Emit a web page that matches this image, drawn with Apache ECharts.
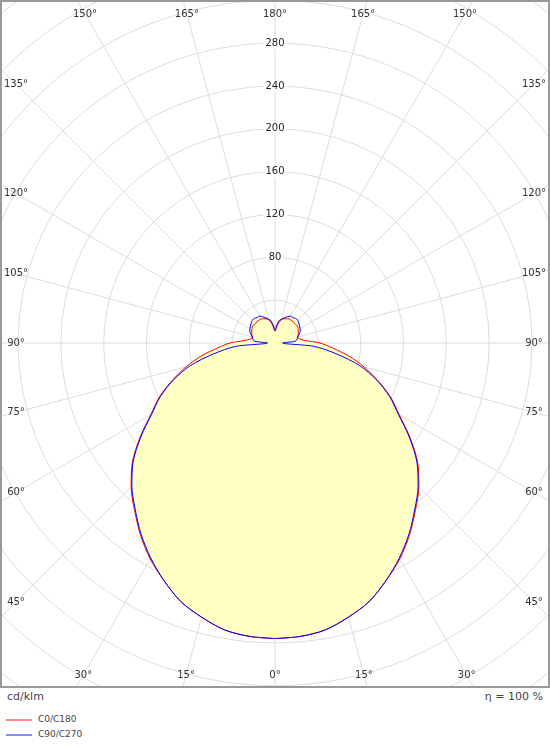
<!DOCTYPE html>
<html>
<head>
<meta charset="utf-8">
<script src="https://cdn.jsdelivr.net/npm/echarts@6/dist/echarts.min.js"></script>
<style>
  body { margin: 0; background: #fff; font-family: "DejaVu Sans", sans-serif; }
  #frame { position: absolute; left: 0; top: 0; width: 550px; height: 688px; border: 2px solid #999; box-sizing: border-box; }
  #chart { width: 546px; height: 684px; }
  .txt { position: absolute; font-size: 11px; color: #444; }
  .leg { position: absolute; font-size: 9px; color: #444; }
  .sw { position: absolute; width: 26px; height: 2px; }
</style>
</head>
<body>
<div id="frame"><div id="chart"></div></div>
<div class="txt" style="left:7px;top:690px">cd/klm</div>
<div class="txt" style="right:7px;top:690px">η = 100 %</div>
<div class="sw" style="left:6px;top:719px;background:#ff8888"></div>
<div class="leg" style="left:38px;top:714px">C0/C180</div>
<div class="sw" style="left:6px;top:734px;background:#8888ff"></div>
<div class="leg" style="left:38px;top:729px">C90/C270</div>
<script>
// gamma angles, 0 = straight down
const gammas = [0,5,10,15,20,25,30,35,40,45,50,55,60,65,70,75,80,85,90,95,100,105,110,115,120,125,130,135,140,145,150,155,160,165,170,175,180]
// cd/klm
const c0 = [276,275,272,265,257,245,233,219,204,190,174,154,134,119,102,86,70,54,42,28,23,22,23,24,25,26,26,26,26,26,26,25,24,22,19,14,11]
const c90 = [276,275,272,265,257,245,232,218,203,189,173,153,133,118,101,82,58,37,7,19,21,22,24,26,27,28,29,30,30,29,29,27,25,23,21,16,12]
const ringLabels = [80,120,160,200,240,280]
const angleLabels = [0,15,30,45,60,75,90,105,120,135,150,165,180]

// both halves of a plane, mirrored around nadir
function plane(vals) {
    const right = gammas.map((g, i) => [vals[i], g])
    const left = gammas.slice().reverse().map((g, i) => [vals[vals.length - 1 - i], 360 - g])
    return right.concat(left)
}

const chart = echarts.init(document.getElementById('chart'))
const cx = 273, cy = 341

const option = {
    animation: false,
    polar: { center: [cx, cy], radius: 514 },
    angleAxis: {
        type: 'value', min: 0, max: 360, interval: 15,
        startAngle: 270, clockwise: false,
        axisLine: { show: false }, axisTick: { show: false }, axisLabel: { show: false },
        splitLine: { lineStyle: { color: '#dcdcdc' } }
    },
    radiusAxis: {
        type: 'value', min: 0, max: 480, interval: 40,
        axisLine: { show: false }, axisTick: { show: false }, axisLabel: { show: false },
        splitLine: { lineStyle: { color: '#dcdcdc' } }
    },
    series: [
        { type: 'line', coordinateSystem: 'polar', data: plane(c0), symbol: 'none', z: 2, smooth: 0.3,
          lineStyle: { width: 0 }, areaStyle: { color: '#ffffc4', opacity: 1 } },
        { type: 'line', coordinateSystem: 'polar', data: plane(c90), symbol: 'none', z: 2, smooth: 0.3,
          lineStyle: { width: 0 }, areaStyle: { color: '#ffffc4', opacity: 1 } },
        { name: 'C0/C180', type: 'line', coordinateSystem: 'polar', data: plane(c0), symbol: 'none', z: 3, smooth: 0.3,
          lineStyle: { color: '#ff0000', width: 1 } },
        { name: 'C90/C270', type: 'line', coordinateSystem: 'polar', data: plane(c90), symbol: 'none', z: 4, smooth: 0.3,
          lineStyle: { color: '#0000ff', width: 1 } }
    ]
}
chart.setOption(option)

// ring values along the 180 line, angle labels where the spokes meet the frame
const graphics = []
ringLabels.forEach(v => {
    const p = chart.convertToPixel({ polarIndex: 0 }, [v, 180])
    graphics.push({ type: 'text', x: p[0], y: p[1], z: 10,
        style: { text: String(v), font: '10px "DejaVu Sans"', fill: '#222', align: 'center', verticalAlign: 'middle',
                 backgroundColor: '#fff', padding: [1, 2] } })
})
angleLabels.forEach(a => {
    const sides = a === 0 || a === 180 ? [0] : [1, -1]
    sides.forEach(s => {
        const dx = Math.sin(a * Math.PI / 180) * (s || 1)
        const dy = Math.cos(a * Math.PI / 180)
        const tx = Math.abs(dx) > 1e-6 ? 259 / Math.abs(dx) : Infinity
        const ty = Math.abs(dy) > 1e-6 ? (dy > 0 ? 332 : 329) / Math.abs(dy) : Infinity
        const t = Math.min(tx, ty)
        graphics.push({ type: 'text', x: cx + dx * t, y: cy + dy * t, z: 10,
            style: { text: a + '°', font: '10px "DejaVu Sans"', fill: '#333', align: 'center', verticalAlign: 'middle' } })
    })
})
chart.setOption({ graphic: graphics })
</script>
</body>
</html>
